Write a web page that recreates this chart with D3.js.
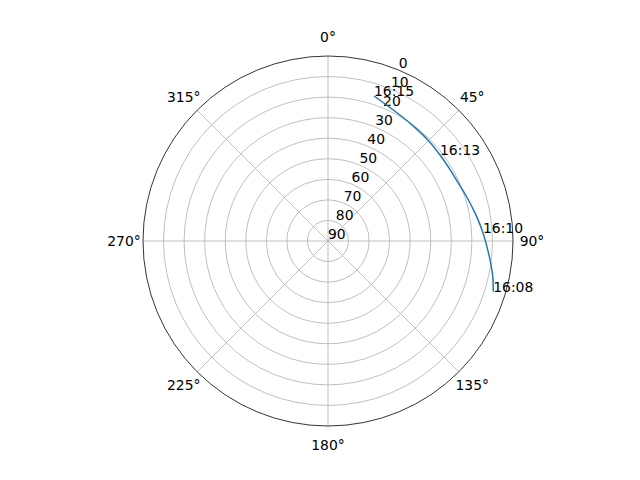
<!DOCTYPE html>
<html>
<head>
<meta charset="utf-8">
<script src="https://cdn.jsdelivr.net/npm/d3@7"></script>
<style>
  body { margin: 0; background: #fff; }
  text { font-family: "DejaVu Sans", sans-serif; font-size: 13.9px; fill: #000; }
</style>
</head>
<body>
<svg id="chart" width="640" height="480"></svg>
<script>
// pass track (azimuth deg, elevation deg)
var azimuth   = [107.1, 102.2, 95.6, 87.0, 80.7, 72.3, 66.1, 59.8, 52.5, 44.8, 36.0, 26.5, 17.6];
var elevation = [  5.9,   8.0, 11.1, 14.5, 16.7, 19.2, 20.6, 21.2, 21.3, 20.9, 20.3, 18.8, 16.0];
// time labels and the track point they sit on
var timeLabels = ["16:08", "16:10", "16:13", "16:15"];
var timeIndex  = [0, 3, 8, 12];

var rTicks = [0, 10, 20, 30, 40, 50, 60, 70, 80, 90];
var thetaTicks = [0, 45, 90, 135, 180, 225, 270, 315];

var cx = 328, cy = 241, R = 185;

var svg = d3.select("#chart");
var g = svg.append("g").attr("transform", "translate(" + cx + "," + cy + ")");

var r = d3.scaleLinear().domain([90, 0]).range([0, R]);
var a = d3.scaleLinear().domain([0, 360]).range([0, 2 * Math.PI]);

// grid circles
g.selectAll(".rgrid")
  .data(rTicks.filter(function(d) { return d > 0 && d < 90; }))
  .enter().append("circle")
  .attr("r", function(d) { return r(d); })
  .attr("fill", "none")
  .attr("stroke", "#b0b0b0")
  .attr("stroke-width", 0.8);

// spokes
g.selectAll(".agrid")
  .data(thetaTicks)
  .enter().append("line")
  .attr("x1", 0).attr("y1", 0)
  .attr("x2", function(d) { return R * Math.sin(a(d)); })
  .attr("y2", function(d) { return -R * Math.cos(a(d)); })
  .attr("stroke", "#b0b0b0")
  .attr("stroke-width", 0.8);

// outer frame
g.append("circle")
  .attr("r", r(0))
  .attr("fill", "none")
  .attr("stroke", "#000")
  .attr("stroke-width", 0.8);

// angle labels
g.selectAll(".alabel")
  .data(thetaTicks)
  .enter().append("text")
  .attr("x", function(d) { return (R + 19) * Math.sin(a(d)); })
  .attr("y", function(d) { return -(R + 19) * Math.cos(a(d)); })
  .attr("text-anchor", "middle")
  .attr("dominant-baseline", "central")
  .text(function(d) { return d + "\u00b0"; });

// radial labels at 22.5 deg
var rlab = a(22.5);
g.selectAll(".rlabel")
  .data(rTicks)
  .enter().append("text")
  .attr("x", function(d) { return r(d) * Math.sin(rlab); })
  .attr("y", function(d) { return -r(d) * Math.cos(rlab) - 2; })
  .attr("text-anchor", "start")
  .text(function(d) { return d; });

// track
var line = d3.lineRadial()
  .angle(function(d) { return a(azimuth[d]); })
  .radius(function(d) { return r(elevation[d]); })
  .curve(d3.curveCatmullRom);

g.append("path")
  .datum(d3.range(azimuth.length))
  .attr("d", line)
  .attr("fill", "none")
  .attr("stroke", "#1f77b4")
  .attr("stroke-width", 1.5);

// time annotations
g.selectAll(".tlabel")
  .data(timeLabels)
  .enter().append("text")
  .attr("x", function(d, i) { return r(elevation[timeIndex[i]]) * Math.sin(a(azimuth[timeIndex[i]])); })
  .attr("y", function(d, i) { return -r(elevation[timeIndex[i]]) * Math.cos(a(azimuth[timeIndex[i]])); })
  .text(function(d) { return d; });
</script>
</body>
</html>
